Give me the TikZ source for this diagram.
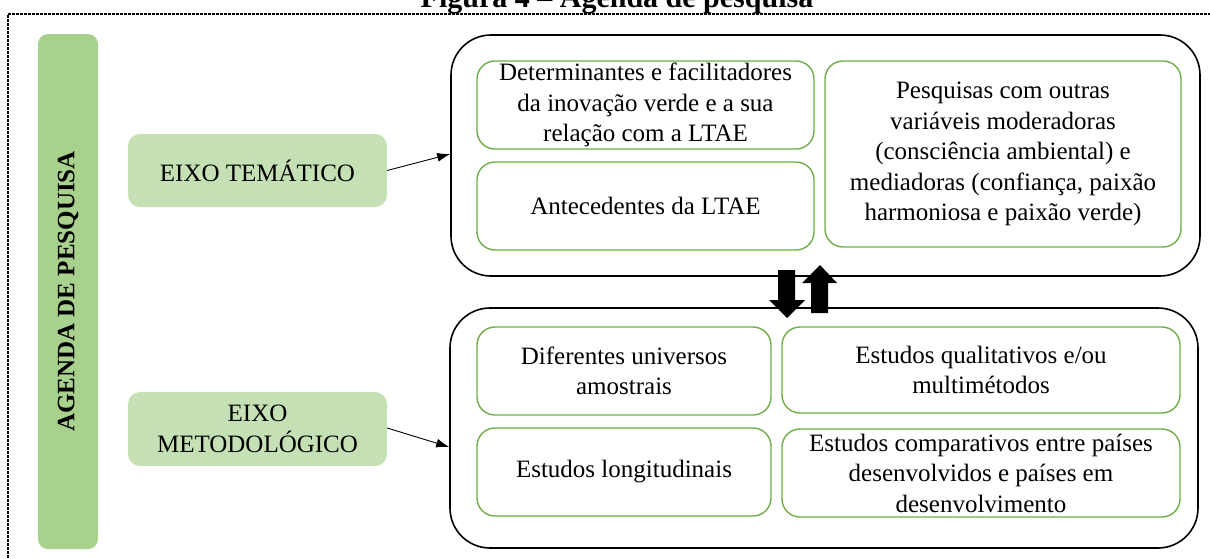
\documentclass[tikz,border=0pt]{standalone}
\usepackage{fontspec}
\setmainfont{Liberation Serif}
\usetikzlibrary{arrows.meta}
\definecolor{barfill}{HTML}{A9D18E}
\definecolor{eixofill}{HTML}{C5E0B4}
\definecolor{gborder}{HTML}{70AD47}
\tikzset{
  txt/.style={font=\fontsize{25}{30.5}\selectfont, align=center, inner sep=0pt, text=black},
  bigbox/.style={draw=black, line width=1.6pt, rounded corners=40pt, rectangle},
  inbox/.style={txt, draw=gborder, line width=1.4pt, rounded corners=18pt, rectangle},
  eixobox/.style={txt, fill=eixofill, rounded corners=12pt, rectangle},
  thinarrow/.style={-{Latex[length=13pt,width=9pt]}, line width=0.9pt},
  blockarrow/.style={fill=black, draw=none},
}
\begin{document}
\begin{tikzpicture}[x=1pt,y=-1pt]
\useasboundingbox (0,0) rectangle (1210,558);
% frame
\draw[line width=1.6pt, dash pattern=on 3pt off 1pt] (8,558) -- (8,14) -- (1210,14);
% title
\node[anchor=base, font=\bfseries\fontsize{30}{36}\selectfont, inner sep=0pt] (title) at (617,7) {Figura 4 -- Agenda de pesquisa};
% left bar
\node[rectangle, fill=barfill, rounded corners=10pt, minimum width=60pt, minimum height=515pt, inner sep=0pt] (bar) at (68,291.5) {};
\node[rotate=90, font=\bfseries\fontsize{25}{30}\selectfont, inner sep=0pt] (bartxt) at (bar.center) {AGENDA DE PESQUISA};
% eixo boxes
\node[eixobox, minimum width=259pt, minimum height=73pt] (eixo1) at (257.5,170.5) {EIXO TEMÁTICO};
\node[eixobox, minimum width=259pt, minimum height=74pt] (eixo2) at (257.5,429) {EIXO\\METODOLÓGICO};
% big boxes
\node[bigbox, minimum width=749pt, minimum height=241pt] (top) at (825.5,155.5) {};
\node[bigbox, minimum width=748pt, minimum height=240pt] (bot) at (824,428) {};
% inner top
\node[inbox, minimum width=337pt, minimum height=88pt] (t1) at (645.5,105) {Determinantes e facilitadores\\da inovação verde e a sua\\relação com a LTAE};
\node[inbox, minimum width=337pt, minimum height=88pt] (t2) at (645.5,206) {Antecedentes da LTAE};
\node[inbox, minimum width=356pt, minimum height=186pt] (t3) at (1003,154) {Pesquisas com outras\\variáveis moderadoras\\(consciência ambiental) e\\mediadoras (confiança, paixão\\harmoniosa e paixão verde)};
% inner bottom
\node[inbox, minimum width=294pt, minimum height=88pt] (b1) at (624,371) {Diferentes universos\\amostrais};
\node[inbox, minimum width=398pt, minimum height=86pt] (b2) at (981,370) {Estudos qualitativos e/ou\\multimétodos};
\node[inbox, minimum width=294pt, minimum height=88pt] (b3) at (624,472) {Estudos longitudinais};
\node[inbox, minimum width=398pt, minimum height=88pt] (b4) at (981,473) {Estudos comparativos entre países\\desenvolvidos e países em\\desenvolvimento};
% thin arrows
\draw[thinarrow] (eixo1.east) -- ([yshift=1.5pt]top.west);
\draw[thinarrow] ([yshift=1pt]eixo2.east) -- ([yshift=-19pt]bot.west);
% block arrows
\fill[blockarrow] (778,270) -- (795,270) -- (795,300) -- (805,300) -- (787,318) -- (769,300) -- (778,300) -- cycle;
\fill[blockarrow] (811,313) -- (828,313) -- (828,283) -- (837,283) -- (820,265) -- (802,283) -- (811,283) -- cycle;
\end{tikzpicture}
\end{document}
